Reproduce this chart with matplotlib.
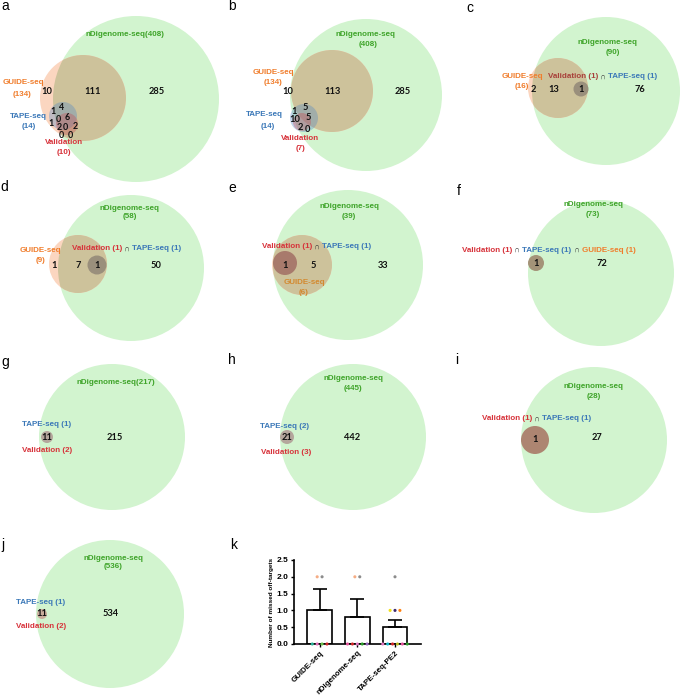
import matplotlib
matplotlib.use("Agg")
import matplotlib.pyplot as plt
from matplotlib.patches import Circle
import numpy as np

# ---------------- DATA ----------------
panel_letters = ["a", "b", "c", "d", "e", "f", "g", "h", "i", "j", "k"]

# set sizes  (nDigenome, GUIDE, TAPE, Validation)
a_sets = [408, 134, 14, 10]
b_sets = [408, 134, 14, 7]
c_sets = [90, 16, 1, 1]
d_sets = [58, 9, 1, 1]
e_sets = [39, 6, 1, 1]
f_sets = [73, 1, 1, 1]
g_sets = [217, 1, 2]          # nDigenome, TAPE, Validation
h_sets = [445, 2, 3]
i_sets = [28, 1, 1]
j_sets = [536, 1, 2]

# region counts
a_regions = ["10", "111", "285", "4", "1", "0", "6", "1", "2", "0", "2", "0", "0"]
b_regions = ["10", "113", "285", "5", "1", "10", "5", "2", "0"]
c_regions = ["2", "13", "1", "76"]
d_regions = ["1", "7", "1", "50"]
e_regions = ["1", "5", "33"]
f_regions = ["1", "72"]
g_regions = ["11", "215"]
h_regions = ["21", "442"]
i_regions = ["1", "27"]
j_regions = ["11", "534"]

# panel k : bar chart
k_categories = ["GUIDE-seq", "nDigenome-seq", "TAPE-seq-PE2"]
k_means = [1.0, 0.8, 0.5]
k_sem = [0.63, 0.53, 0.22]
k_yticks = [0.0, 0.5, 1.0, 1.5, 2.0, 2.5]
k_points = [
    [2, 2, 0, 0, 0, 0],
    [2, 2, 0, 0, 0, 0, 0],
    [2, 1, 1, 1, 0, 0, 0, 0, 0, 0],
]
k_point_colors = [
    ["#f5ad85", "#8c8c8c", "#2bb39a", "#e36fb9", "#6cc24a", "#d62728"],
    ["#f5ad85", "#8c8c8c", "#e6549d", "#d62728", "#e377c2", "#2ca02c", "#9467bd"],
    ["#8c8c8c", "#f2e01a", "#3d2a6e", "#ff7f0e", "#e377c2", "#17becf",
     "#d62728", "#bcbd22", "#e6549d", "#2ca02c"],
]

# ---------------- STYLE ----------------
GREEN_FILL = "#d2f4cf"
PEACH_FILL = "#fbd6c0"
KHAKI_FILL = "#cdc29b"
GREEN_TXT = "#3fa42a"
ORANGE_TXT = "#f07d2c"
BLUE_TXT = "#3b78b8"
RED_TXT = "#d7323a"
LABEL_FONT = ["Liberation Sans", "DejaVu Sans"]
NUM_FONT = ["Lato", "DejaVu Sans"]
LFS = 5.8   # label font size
NFS = 6.7   # number font size

fig = plt.figure(figsize=(6.82, 6.98), dpi=100)
ax = fig.add_axes([0, 0, 1, 1])
ax.set_xlim(0, 682)
ax.set_ylim(698, 0)
ax.set_aspect("equal")
ax.axis("off")


def circ(x, y, r, color, alpha=1.0, z=1, clip=None):
    c = Circle((x, y), r, facecolor=color, edgecolor="none", alpha=alpha, zorder=z)
    ax.add_patch(c)
    if clip is not None:
        c.set_clip_path(clip)
    return c


def green_guide(g, o):
    gc = circ(*g, GREEN_FILL, z=1)
    if o is not None:
        circ(*o, PEACH_FILL, z=1.5)
        circ(*o, KHAKI_FILL, z=2, clip=gc)
    return gc


def label(x, y, s, color, ha="center"):
    ax.text(x, y, s, color=color, fontsize=LFS, fontweight="bold",
            family=LABEL_FONT, ha=ha, va="center", zorder=10)


def num(x, y, s, fs=NFS):
    ax.text(x, y, s, color="#111111", fontsize=fs, fontweight="bold",
            family=NUM_FONT, ha="center", va="center", zorder=10)


def multi(x, y, parts):
    t = ax.text(x, y, parts[0][0], color=parts[0][1], fontsize=LFS,
                fontweight="bold", family=LABEL_FONT, ha="left", va="center",
                zorder=10)
    for s, c in parts[1:]:
        t = ax.annotate(s, xy=(1, 0), xycoords=t, color=c, fontsize=LFS,
                        fontweight="bold", family=LABEL_FONT, ha="left",
                        va="bottom", zorder=10)


def inter_parts(names):
    parts = []
    for i, (n, c) in enumerate(names):
        if i > 0:
            parts.append((" \u2229 ", "#333333"))
        parts.append((n, c))
    return parts


# panel letters
letter_xy = [(1, 6), (228, 6), (466, 8), (0, 187), (228, 188), (457, 191),
             (1, 362), (228, 360), (455, 360), (1, 545), (230, 545)]
for L, (x, y) in zip(panel_letters, letter_xy):
    ax.text(x, y, L, fontsize=10, family=LABEL_FONT, ha="left", va="center",
            color="black")

# ---------- panel a ----------
green_guide((136, 99, 83), (83, 98, 43))
circ(63, 116, 14, "#4f86c6", alpha=0.35, z=3)
circ(67, 124, 11, "#c8464e", alpha=0.35, z=4)
label(125, 35, f"nDigenome-seq({a_sets[0]})", GREEN_TXT)
label(23, 83, "GUIDE-seq", ORANGE_TXT)
label(22, 94, f"({a_sets[1]})", ORANGE_TXT)
label(28, 116, "TAPE-seq", BLUE_TXT)
label(29, 126, f"({a_sets[2]})", BLUE_TXT)
label(64, 143, "Validation", RED_TXT)
label(64, 153, f"({a_sets[3]})", RED_TXT)
a_xy = [(47, 91), (93, 91), (157, 91), (62, 107), (53, 112), (58, 119),
        (67, 118), (51, 123), (59, 127), (65, 127.5), (75, 126.5), (61, 135),
        (70, 135)]
for k_, (s, (x, y)) in enumerate(zip(a_regions, a_xy)):
    num(x, y, s, NFS if k_ < 3 else 6.4)

# ---------- panel b ----------
green_guide((366, 95, 76), (332, 91, 41))
circ(304, 118, 14, "#4f86c6", alpha=0.35, z=3)
circ(302, 122, 9, "#c8464e", alpha=0.35, z=4)
label(365, 35, "nDigenome-seq", GREEN_TXT)
label(368, 44, f"({b_sets[0]})", GREEN_TXT)
label(273, 73, "GUIDE-seq", ORANGE_TXT)
label(273, 83, f"({b_sets[1]})", ORANGE_TXT)
label(264, 115, "TAPE-seq", BLUE_TXT)
label(268, 126, f"({b_sets[2]})", BLUE_TXT)
label(300, 139, "Validation", RED_TXT)
label(300, 149, f"({b_sets[3]})", RED_TXT)
b_xy = [(288, 92), (332, 92), (403, 92), (305, 108), (294, 111), (295, 119),
        (308, 118), (300, 128), (307, 130)]
for s, (x, y) in zip(b_regions, b_xy):
    num(x, y, s)

# ---------- panel c ----------
green_guide((606, 91, 74), (558, 88, 30))
circ(581, 89, 7.5, "#9a8f7c", z=3)
label(608, 43, "nDigenome-seq", GREEN_TXT)
label(613, 53, f"({c_sets[0]})", GREEN_TXT)
label(522, 76, "GUIDE-seq", ORANGE_TXT)
label(522, 86, f"({c_sets[1]})", ORANGE_TXT)
multi(548, 77, inter_parts([(f"Validation ({c_sets[3]})", "#a8403a"),
                            (f"TAPE-seq ({c_sets[2]})", BLUE_TXT)]))
for s, (x, y) in zip(c_regions, [(533, 89), (554, 89), (581, 89), (640, 89)]):
    num(x, y, s)

# ---------- panel d ----------
green_guide((131, 268, 73), (78, 264, 29))
circ(97, 265, 9.5, "#9a8f7c", z=3)
label(130, 208, "nDigenome-seq", GREEN_TXT)
label(130, 217, f"({d_sets[0]})", GREEN_TXT)
label(40, 251, "GUIDE-seq", ORANGE_TXT)
label(40, 261, f"({d_sets[1]})", ORANGE_TXT)
multi(72, 249, inter_parts([(f"Validation ({d_sets[3]})", RED_TXT),
                            (f"TAPE-seq ({d_sets[2]})", BLUE_TXT)]))
for s, (x, y) in zip(d_regions, [(54, 265), (78, 265), (97, 265), (156, 265)]):
    num(x, y, s)

# ---------- panel e ----------
green_guide((348, 265, 75), (302, 265, 30))
circ(285, 263, 12, "#a87a6c", z=3)
label(349, 207, "nDigenome-seq", GREEN_TXT)
label(349, 217, f"({e_sets[0]})", GREEN_TXT)
label(304, 283, "GUIDE-seq", "#d3892f")
label(304, 293, f"({e_sets[1]})", "#d3892f")
multi(262, 247, inter_parts([(f"Validation ({e_sets[3]})", RED_TXT),
                             (f"TAPE-seq ({e_sets[2]})", BLUE_TXT)]))
for s, (x, y) in zip(e_regions, [(285, 265), (313, 265), (383, 265)]):
    num(x, y, s)

# ---------- panel f ----------
green_guide((601, 273, 73), None)
circ(536, 263, 8, "#a49378", z=3)
label(593, 204, "nDigenome-seq", GREEN_TXT)
label(593, 214, f"({f_sets[0]})", GREEN_TXT)
multi(462, 250, inter_parts([(f"Validation ({f_sets[3]})", RED_TXT),
                             (f"TAPE-seq ({f_sets[2]})", BLUE_TXT),
                             (f"GUIDE-seq ({f_sets[1]})", ORANGE_TXT)]))
for s, (x, y) in zip(f_regions, [(536, 263), (602, 264)]):
    num(x, y, s)

# ---------- panel g ----------
green_guide((112, 437, 73), None)
circ(47, 437, 6, "#b4a69c", z=3)
label(116, 382, f"nDigenome-seq({g_sets[0]})", GREEN_TXT)
label(47, 424, f"TAPE-seq ({g_sets[1]})", BLUE_TXT)
label(47, 451, f"Validation ({g_sets[2]})", RED_TXT)
for s, (x, y) in zip(g_regions, [(47, 437), (115, 438)]):
    num(x, y, s)

# ---------- panel h ----------
green_guide((353, 437, 73), None)
circ(287, 437, 7, "#b4a69c", z=3)
label(353, 378, "nDigenome-seq", GREEN_TXT)
label(353, 388, f"({h_sets[0]})", GREEN_TXT)
label(284, 426, f"TAPE-seq ({h_sets[1]})", BLUE_TXT)
label(286, 452, f"Validation ({h_sets[2]})", RED_TXT)
for s, (x, y) in zip(h_regions, [(287, 437), (352, 437)]):
    num(x, y, s)

# ---------- panel i ----------
green_guide((594, 440, 73), None)
circ(535, 440, 14, "#ad8571", z=3)
label(594, 387, "nDigenome-seq", GREEN_TXT)
label(594, 397, f"({i_sets[0]})", GREEN_TXT)
multi(482, 419, inter_parts([(f"Validation ({i_sets[2]})", RED_TXT),
                             (f"TAPE-seq ({i_sets[1]})", BLUE_TXT)]))
for s, (x, y) in zip(i_regions, [(535, 440), (597, 438)]):
    num(x, y, s)

# ---------- panel j ----------
green_guide((110, 614, 74), None)
circ(42, 614, 5, "#c9ad9c", z=3)
label(113, 558, "nDigenome-seq", GREEN_TXT)
label(113, 567, f"({j_sets[0]})", GREEN_TXT)
label(41, 603, f"TAPE-seq ({j_sets[1]})", BLUE_TXT)
label(41, 626, f"Validation ({j_sets[2]})", RED_TXT)
for s, (x, y) in zip(j_regions, [(42, 614), (111, 614)]):
    num(x, y, s)

# ---------- panel k : bar chart ----------
W, H = 682.0, 698.0
axk = fig.add_axes([294 / W, 1 - 644 / H, 127 / W, 84 / H])
xpos = np.arange(len(k_categories))
axk.bar(xpos, k_means, width=0.66, facecolor="white", edgecolor="black",
        linewidth=1.2, zorder=2)
axk.errorbar(xpos, k_means, yerr=[np.zeros(len(k_sem)), k_sem], fmt="none",
             ecolor="black", elinewidth=1.2, capsize=5, capthick=1.2, zorder=3)
for i, (vals, cols) in enumerate(zip(k_points, k_point_colors)):
    vals = np.asarray(vals)
    xs = np.zeros(len(vals), dtype=float)
    for v in np.unique(vals):
        idx = np.where(vals == v)[0]
        n = len(idx)
        xs[idx] = i + (np.arange(n) - (n - 1) / 2) * 0.13
    axk.scatter(xs, vals, s=5, c=cols, edgecolors="none", zorder=4,
                clip_on=False)
axk.set_xlim(-0.68, 2.69)
axk.set_ylim(0, 2.5)
axk.set_yticks(k_yticks)
axk.set_yticklabels([f"{t:.1f}" for t in k_yticks], fontsize=6,
                    fontweight="bold", family=LABEL_FONT)
axk.set_xticks(xpos)
axk.set_xticklabels(k_categories, rotation=45, ha="right",
                    rotation_mode="anchor", fontsize=5.7, fontweight="bold",
                    family=LABEL_FONT)
axk.set_ylabel("Number of missed off-targets", fontsize=4.6, fontweight="bold",
               family=LABEL_FONT, labelpad=2)
for sp in ["top", "right"]:
    axk.spines[sp].set_visible(False)
for sp in ["left", "bottom"]:
    axk.spines[sp].set_linewidth(1.2)
axk.tick_params(axis="both", width=1.0, length=2.5, pad=1.5)
axk.patch.set_alpha(0)

fig.savefig("out.png", dpi=100)
